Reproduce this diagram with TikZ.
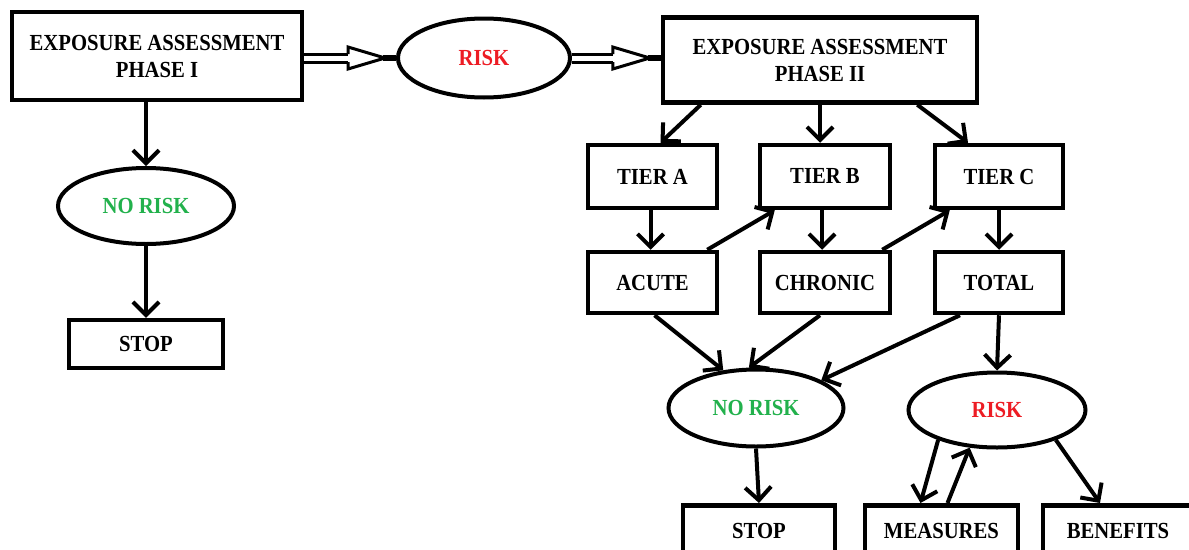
\documentclass[tikz,border=0pt]{standalone}
\usepackage{fontspec}
\setmainfont{Liberation Serif}[FakeStretch=0.9]
\usetikzlibrary{arrows.meta,shapes.geometric,calc}
\definecolor{riskred}{HTML}{ED1C24}
\definecolor{nogreen}{HTML}{22B14C}
\tikzset{
  box/.style={draw, line width=4.5pt, rectangle, inner sep=0pt, align=center,
    font=\fontsize{23}{27}\selectfont\bfseries},
  bottombox/.style={box, anchor=north, inner ysep=18pt, text height=15pt, text depth=30pt},
  oval/.style={draw, line width=4pt, ellipse, inner sep=0pt,
    font=\fontsize{23}{27}\selectfont\bfseries},
  arr/.style={line width=4pt, -{Straight Barb[length=13pt,width=26pt,line width=4pt]}},
  dblline/.style={double, double distance=5pt, line width=3pt},
  dblhead/.style={line width=3pt, line join=miter},
  dbltip/.style={line width=6pt},
}
\begin{document}
\begin{tikzpicture}[x=1pt,y=-1pt]
\clip (0,0) rectangle (1189,549);
\fill[white] (0,0) rectangle (1189,549);
% left branch
\node[box, minimum width=290pt, minimum height=88pt] (p1) at (157,56) {EXPOSURE ASSESSMENT\\PHASE I};
\node[oval, minimum width=172pt, minimum height=79pt, text=riskred] (risk1) at (484,58) {RISK};
\node[box, minimum width=314pt, minimum height=85pt] (p2) at (820,60) {EXPOSURE ASSESSMENT\\PHASE II};
\node[oval, minimum width=176pt, minimum height=76pt, text=nogreen] (nr1) at (146,206) {NO RISK};
\node[box, minimum width=154pt, minimum height=48pt] (stop1) at (146,344) {STOP};
% tiers
\node[box, minimum width=129pt, minimum height=63pt] (ta) at (652.5,176.5) {TIER A};
\node[box, minimum width=130pt, minimum height=63pt] (tb) at (825,176.5) {TIER B};
\node[box, minimum width=128pt, minimum height=63pt] (tc) at (999,176.5) {TIER C};
\node[box, minimum width=129pt, minimum height=61pt] (ac) at (652.5,282.5) {ACUTE};
\node[box, minimum width=130pt, minimum height=61pt] (ch) at (825,282.5) {CHRONIC};
\node[box, minimum width=128pt, minimum height=61pt] (to) at (999,282.5) {TOTAL};
% outcomes
\node[oval, minimum width=175pt, minimum height=77pt, text=nogreen] (nr2) at (756,408) {NO RISK};
\node[oval, minimum width=177pt, minimum height=75pt, text=riskred] (r2) at (997,410) {RISK};
\node[bottombox, minimum width=152pt] (stop2) at (759,503) {STOP};
\node[bottombox, minimum width=153pt] (meas) at (941.5,503) {MEASURES};
\node[bottombox, minimum width=150pt] (ben) at (1118,503) {BENEFITS};
% double (hollow) arrows
\coordinate (h1) at ($(risk1.west)+(-48,0)$);
\draw[dblline] (p1.east |- risk1.west) -- (h1);
\draw[dblhead] ($(h1)+(0,-4)$) -- ($(h1)+(0,-11)$) -- ($(risk1.west)+(-11,0)$) -- ($(h1)+(0,11)$) -- ($(h1)+(0,4)$);
\draw[dbltip] ($(risk1.west)+(-13,0)$) -- (risk1.west);
\coordinate (h2) at ($(risk1.east -| p2.west)+(-48,0)$);
\draw[dblline] (risk1.east) -- (h2);
\draw[dblhead] ($(h2)+(0,-4)$) -- ($(h2)+(0,-11)$) -- ($(risk1.east -| p2.west)+(-11,0)$) -- ($(h2)+(0,11)$) -- ($(h2)+(0,4)$);
\draw[dbltip] ($(risk1.east -| p2.west)+(-13,0)$) -- (risk1.east -| p2.west);
% connectors
\draw[arr] (nr1.north |- p1.south) -- (nr1.north);
\draw[arr] (nr1.south) -- (stop1.north);
\draw[arr] ([xshift=40pt]p2.south west) -- ([xshift=8pt]ta.north);
\draw[arr] ([xshift=-5pt]tb.north |- p2.south) -- ([xshift=-5pt]tb.north);
\draw[arr] ([xshift=-62pt]p2.south east) -- ([xshift=-31pt]tc.north);
\draw[arr] ([xshift=-2pt]ta.south) -- ([xshift=-2pt]ac.north);
\draw[arr] ([xshift=-3pt]tb.south) -- ([xshift=-3pt]ch.north);
\draw[arr] (tc.south) -- (to.north);
\draw[arr] ([xshift=-12pt]ac.north east) -- ([xshift=17pt]tb.south west);
\draw[arr] ([xshift=-10pt]ch.north east) -- ([xshift=17pt]tc.south west);
\draw[arr] ([xshift=2pt]ac.south) -- (nr2.131);
\draw[arr] ([xshift=-5pt]ch.south) -- (nr2.100);
\draw[arr] ([xshift=-39pt]to.south) -- (nr2.23);
\draw[arr] (to.south) -- (r2.north);
\draw[arr] (nr2.south) -- (stop2.north);
\draw[arr] (r2.207) -- ([xshift=-21pt]meas.north);
\draw[arr] ([xshift=6pt]meas.north) -- (r2.234);
\draw[arr] (r2.333) -- ([xshift=-18pt]ben.north);
\end{tikzpicture}
\end{document}
